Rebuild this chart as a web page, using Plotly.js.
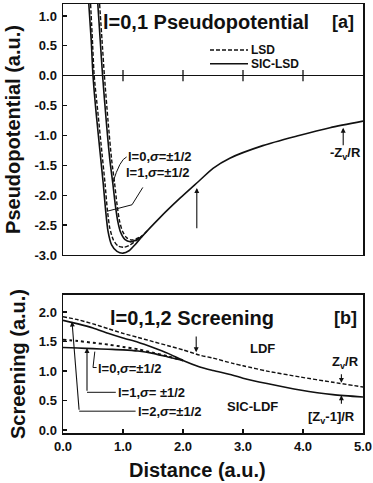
<!DOCTYPE html>
<html><head><meta charset="utf-8">
<script src="https://cdn.plot.ly/plotly-3.0.1.min.js"></script>
<style>html,body{margin:0;padding:0;background:#fff}</style>
</head><body><div id="chart" style="width:373px;height:483px"></div>
<script>
// ---- panel (a): pseudopotential ----
const l1SicX = [0.43,0.47,0.50,0.55,0.62,0.67,0.71,0.75,0.81,0.90,1.00,1.10,1.20,1.30,1.62,1.95,2.28,2.50,2.78,3.33,3.90,4.45,5.00];
const l1SicY = [1.2,0.6,0.0,-0.6,-1.3,-1.8,-2.25,-2.6,-2.83,-2.94,-2.97,-2.93,-2.83,-2.71,-2.37,-2.05,-1.75,-1.55,-1.38,-1.17,-1.01,-0.87,-0.76];
const l1LsdX = [0.46,0.49,0.52,0.58,0.65,0.70,0.74,0.78,0.84,0.92,1.02,1.12,1.22,1.32,1.40];
const l1LsdY = [1.2,0.6,0.0,-0.6,-1.3,-1.8,-2.25,-2.55,-2.75,-2.85,-2.87,-2.83,-2.76,-2.68,-2.60];
const l0SicX = [0.58,0.62,0.66,0.72,0.78,0.83,0.87,0.91,0.96,1.03,1.12,1.22,1.32];
const l0SicY = [1.2,0.6,0.0,-0.75,-1.4,-1.8,-2.15,-2.42,-2.62,-2.74,-2.78,-2.75,-2.69];
const l0LsdX = [0.61,0.65,0.69,0.75,0.81,0.86,0.90,0.94,0.99,1.06,1.14,1.24,1.34];
const l0LsdY = [1.2,0.6,0.0,-0.75,-1.4,-1.8,-2.15,-2.42,-2.60,-2.71,-2.75,-2.72,-2.67];
const zeroTickX = [1,2,3,4];
const zeroTickY = [0,0,0,0];
const potTickVals = [1.0,0.5,0.0,-0.5,-1.0,-1.5,-2.0,-2.5,-3.0];
const potTickText = ['1.0','0.5','0.0','-0.5','-1.0','-1.5','-2.0','-2.5','-3.0'];

// ---- panel (b): screening ----
const scrX = [0,0.25,0.5,0.75,1.0,1.25,1.5,1.75,2.0,2.28,2.5,2.83,3.0,3.4,3.95,4.5,5.0];
const ldfY = [1.92,1.87,1.80,1.72,1.64,1.57,1.50,1.43,1.36,1.27,1.22,1.13,1.09,1.00,0.90,0.81,0.73];
const sicL2Y = [1.86,1.80,1.73,1.64,1.56,1.49,1.40,1.30,1.18,1.07,1.01,0.93,0.88,0.79,0.68,0.60,0.56];
const sicLowX = [0,0.25,0.5,0.75,1.0,1.25,1.5,1.75,2.0];
const sicL1Y = [1.53,1.51,1.48,1.45,1.41,1.37,1.31,1.25,1.18];
const sicL0Y = [1.40,1.39,1.38,1.37,1.36,1.34,1.30,1.24,1.18];
const scrTickVals = [0,0.5,1.0,1.5,2.0];
const scrTickText = ['0.0','0.5','1.0','1.5','2.0'];
const distTickVals = [0,1,2,3,4,5];
const distTickText = ['0.0','1.0','2.0','3.0','4.0','5.0'];

const FONT = 'Liberation Sans, Arial, Helvetica, sans-serif';
const K = '#111';
const sm = {shape:'spline', smoothing:0.7};
const solid = Object.assign({color:K, width:1.6}, sm);
const dashed = Object.assign({color:K, width:1.4, dash:'4px,2px'}, sm);

const traces = [
  {x:l1SicX, y:l1SicY, xaxis:'x', yaxis:'y', mode:'lines', line:solid, name:'SIC-LSD l=1'},
  {x:l0SicX, y:l0SicY, xaxis:'x', yaxis:'y', mode:'lines', line:solid, name:'SIC-LSD l=0'},
  {x:l1LsdX, y:l1LsdY, xaxis:'x', yaxis:'y', mode:'lines', line:dashed, name:'LSD l=1'},
  {x:l0LsdX, y:l0LsdY, xaxis:'x', yaxis:'y', mode:'lines', line:dashed, name:'LSD l=0'},
  {x:zeroTickX, y:zeroTickY, xaxis:'x', yaxis:'y', mode:'markers', marker:{symbol:'line-ns', size:8, line:{color:K, width:1.3}}, hoverinfo:'skip'},
  {x:scrX, y:ldfY, xaxis:'x2', yaxis:'y2', mode:'lines', line:dashed, name:'LDF'},
  {x:scrX, y:sicL2Y, xaxis:'x2', yaxis:'y2', mode:'lines', line:solid, name:'SIC-LDF l=2'},
  {x:sicLowX, y:sicL1Y, xaxis:'x2', yaxis:'y2', mode:'lines', line:Object.assign({color:K, width:2, dash:'dot'}, sm), name:'SIC-LDF l=1'},
  {x:sicLowX, y:sicL0Y, xaxis:'x2', yaxis:'y2', mode:'lines', line:solid, name:'SIC-LDF l=0'}
];

const axisCommon = {showline:true, mirror:true, linecolor:K, linewidth:1.5, showgrid:false, zeroline:false,
  ticks:'inside', ticklen:4, tickcolor:K, tickwidth:1.2, tickfont:{family:FONT, size:13, color:K, weight:'bold'}};

function ann(x, y, text, xref, yref, size, xanchor) {
  return {x:x, y:y, xref:xref, yref:yref, text:text, showarrow:false, xanchor:xanchor||'center', yanchor:'middle',
    borderpad:0, font:{family:FONT, size:size, color:K, weight:'bold'}};
}
function arrow(x, y, ax, ay, xref, yref) {
  return {x:x, y:y, ax:ax, ay:ay, xref:xref, yref:yref, axref:xref, ayref:yref, text:'', showarrow:true,
    arrowhead:2, arrowsize:0.9, arrowwidth:1.1, arrowcolor:K};
}
const sig = '<i>σ</i>';
const annotations = [
  ann(2.38, 0.90, 'l=0,1 Pseudopotential', 'x', 'y', 20),
  ann(4.67, 0.90, '[a]', 'x', 'y', 18),
  ann((250-63)/60, 0.43, 'LSD', 'x', 'y', 12, 'left'),
  ann((250-63)/60, 0.20, 'SIC-LSD', 'x', 'y', 12, 'left'),
  ann(1.07, -1.35, 'l=0,'+sig+'=±1/2', 'x', 'y', 13, 'left'),
  ann(1.03, -1.62, 'l=1,'+sig+'=±1/2', 'x', 'y', 13, 'left'),
  ann(4.70, -1.30, '-Z<sub>v</sub>/R', 'x', 'y', 13),
  arrow(4.67, -0.87, 4.67, -1.19, 'x', 'y'),
  arrow(2.23, -1.88, 2.23, -2.58, 'x', 'y'),
  ann(2.15, 1.90, 'l=0,1,2 Screening', 'x2', 'y2', 20),
  ann(4.70, 1.90, '[b]', 'x2', 'y2', 18),
  ann(3.33, 1.39, 'LDF', 'x2', 'y2', 13),
  ann(4.70, 1.14, 'Z<sub>v</sub>/R', 'x2', 'y2', 13),
  arrow(4.64, 0.80, 4.64, 0.97, 'x2', 'y2'),
  ann(3.15, 0.40, 'SIC-LDF', 'x2', 'y2', 13),
  ann(4.48, 0.22, '[Z<sub>v</sub>-1]/R', 'x2', 'y2', 13),
  arrow(4.64, 0.59, 4.64, 0.42, 'x2', 'y2'),
  arrow(2.22, 1.32, 2.22, 1.61, 'x2', 'y2'),
  ann(0.57, 1.05, 'l=0,'+sig+'=±1/2', 'x2', 'y2', 13, 'left'),
  ann(0.90, 0.64, 'l=1,'+sig+'= ±1/2', 'x2', 'y2', 13, 'left'),
  ann(1.23, 0.31, 'l=2,'+sig+'=±1/2', 'x2', 'y2', 13, 'left'),
  arrow(0.40, 1.39, 0.40, 0.64, 'x2', 'y2'),
  arrow(0.15, 1.84, 0.27, 0.32, 'x2', 'y2'),
  {xref:'paper', yref:'paper', x:(197-63)/300, y:-(470-433)/429, text:'Distance (a.u.)', showarrow:false,
   xanchor:'center', yanchor:'middle', font:{family:FONT, size:20, color:K, weight:'bold'}}
];

const ln = {color:K, width:1};
const shapes = [
  // legend samples
  {type:'line', xref:'x', yref:'y', x0:(210-63)/60, x1:(248-63)/60, y0:0.43, y1:0.43, line:{color:K, width:1.3, dash:'4px,2px'}},
  {type:'line', xref:'x', yref:'y', x0:(210-63)/60, x1:(248-63)/60, y0:0.20, y1:0.20, line:{color:K, width:1.3}},
  // leaders panel (a)
  {type:'path', xref:'x', yref:'y', path:'M 1.06 -1.36 Q 0.95 -1.40 0.83 -1.79', line:ln},
  {type:'path', xref:'x', yref:'y', path:'M 1.33 -1.87 L 1.15 -2.16 L 0.73 -2.27', line:ln},
  // leaders panel (b)
  {type:'path', xref:'x2', yref:'y2', path:'M 0.53 1.33 L 0.50 1.06 L 0.56 1.06', line:ln},
  {type:'line', xref:'x2', yref:'y2', x0:0.40, x1:0.88, y0:0.64, y1:0.64, line:ln},
  {type:'line', xref:'x2', yref:'y2', x0:0.27, x1:1.21, y0:0.32, y1:0.32, line:ln}
];

const layout = {
  width:373, height:483,
  margin:{l:63, r:10, t:4, b:50},
  paper_bgcolor:'#fff', plot_bgcolor:'#fff',
  showlegend:false,
  font:{family:FONT, color:K},
  xaxis:Object.assign({}, axisCommon, {domain:[0,1], range:[0,5], anchor:'y', showticklabels:false, ticks:''}),
  yaxis:Object.assign({}, axisCommon, {domain:[0.415,1], range:[-3,1.2], anchor:'x', tickvals:potTickVals, ticktext:potTickText,
    zeroline:true, zerolinecolor:K, zerolinewidth:1.2, ticklabelstandoff:2,
    title:{text:'Pseudopotential (a.u.)', font:{family:FONT, size:20, color:K, weight:'bold'}, standoff:8}}),
  xaxis2:Object.assign({}, axisCommon, {domain:[0,1], range:[0,5], anchor:'y2', tickvals:distTickVals, ticktext:distTickText, ticklabelstandoff:1}),
  yaxis2:Object.assign({}, axisCommon, {domain:[0,0.3217], range:[-0.05,2.29], anchor:'x2', tickvals:scrTickVals, ticktext:scrTickText, ticklabelstandoff:2,
    title:{text:'Screening (a.u.)', font:{family:FONT, size:20, color:K, weight:'bold'}, standoff:8}}),
  annotations:annotations,
  shapes:shapes
};
Plotly.newPlot('chart', traces, layout, {displayModeBar:false, staticPlot:true});
</script></body></html>
